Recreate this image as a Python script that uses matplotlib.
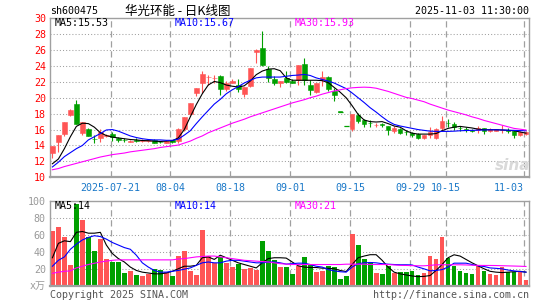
import numpy as np
import matplotlib.pyplot as plt

# ---- données (80 séances, 2025-07-07 -> 2025-11-03) ----
opens = [13.1, 14.5, 15.5, 17.8, 19.2, 15.55, 16.05, 14.85, 14.93, 15.15,
         15.45, 15.0, 14.75, 14.5, 14.65, 14.55, 14.55, 14.75, 14.47, 14.3,
         14.7, 14.6, 16.1, 18.0, 20.6, 21.8, 22.55, 22.45, 22.7, 21.1,
         21.9, 21.6, 20.5, 21.45, 25.7, 26.3, 23.6, 22.3, 21.85, 22.5,
         22.15, 22.2, 24.25, 21.65, 20.75, 22.2, 22.65, 20.9, 18.27, 16.44,
         16.1, 17.8, 17.15, 16.85, 16.55, 16.65, 16.4, 15.85, 16.05, 15.7,
         15.6, 15.45, 15.0, 15.3, 15.0, 16.2, 16.85, 16.7, 16.25, 16.0,
         15.9, 16.0, 16.2, 15.8, 15.85, 15.95, 16.0, 15.85, 15.35, 15.5]
highs = [13.95, 15.35, 16.9, 18.55, 19.7, 17.0, 16.15, 15.35, 16.1, 15.5,
         15.7, 15.1, 15.0, 14.75, 14.95, 14.8, 14.75, 14.85, 14.6, 14.65,
         14.75, 16.15, 17.6, 19.4, 21.25, 23.4, 22.9, 22.8, 22.8, 22.1,
         22.3, 22.3, 21.35, 23.7, 26.1, 28.4, 24.0, 22.7, 22.1, 23.3,
         22.4, 24.1, 24.95, 22.2, 21.9, 23.4, 22.7, 21.25, 18.27, 16.44,
         17.95, 18.05, 17.37, 17.16, 16.82, 16.82, 16.4, 16.48, 16.2, 16.0,
         15.7, 15.55, 15.35, 16.3, 16.2, 17.75, 17.37, 16.9, 16.5, 16.27,
         16.05, 16.4, 16.2, 16.2, 16.1, 16.6, 16.2, 16.0, 15.8, 15.8]
lows = [12.4, 13.2, 15.2, 17.65, 16.7, 15.35, 15.15, 14.3, 14.4, 15.05,
        14.6, 14.4, 14.4, 14.45, 14.4, 14.45, 14.45, 14.25, 14.3, 14.25,
        14.35, 14.3, 15.85, 17.85, 20.2, 20.6, 21.65, 21.85, 20.4, 20.9,
        21.8, 20.75, 20.05, 21.4, 24.4, 24.0, 21.95, 21.66, 21.4, 21.9,
        21.8, 21.65, 21.6, 20.3, 20.6, 21.45, 20.8, 19.65, 18.27, 16.44,
        15.85, 16.8, 16.27, 16.27, 16.27, 16.27, 15.26, 15.56, 15.5, 15.26,
        15.1, 14.85, 14.85, 15.0, 14.85, 16.0, 16.3, 16.0, 15.85, 15.7,
        15.7, 15.55, 15.45, 15.75, 15.8, 15.55, 15.55, 15.0, 15.15, 15.35]
closes = [13.95, 15.35, 16.9, 18.5, 16.75, 17.0, 15.25, 14.8, 15.68, 15.35,
          15.1, 14.7, 14.7, 14.6, 14.6, 14.7, 14.65, 14.3, 14.45, 14.6,
          14.4, 16.06, 17.6, 19.35, 21.25, 23.0, 22.6, 22.5, 21.05, 21.8,
          22.05, 21.05, 21.3, 23.7, 26.05, 24.1, 22.5, 21.9, 22.05, 21.95,
          21.9, 24.1, 22.2, 20.95, 21.85, 22.55, 21.05, 20.3, 18.27, 16.44,
          17.95, 17.1, 16.7, 16.8, 16.6, 16.6, 16.0, 16.2, 15.55, 15.65,
          15.3, 15.0, 15.35, 15.7, 16.05, 17.05, 16.8, 16.3, 16.2, 15.98,
          15.85, 16.2, 15.85, 16.1, 16.05, 16.0, 15.85, 15.35, 15.75, 15.7]

ma5 = [11.7, 12.3, 13.6, 15.1, 16.4, 16.8, 16.75, 16.3, 15.6, 15.25,
       15.05, 14.95, 14.85, 14.75, 14.7, 14.62, 14.6, 14.55, 14.5, 14.55,
       14.6, 14.95, 16.0, 17.6, 19.14, 20.5, 21.6, 22.05, 21.9, 21.6,
       21.45, 21.35, 21.5, 22.1, 22.9, 23.35, 23.6, 23.65, 23.4, 22.5,
       22.2, 22.2, 22.2, 22.2, 22.2, 22.15, 21.9, 21.3, 20.7, 20.0,
       19.0, 17.9, 17.2, 17.0, 16.95, 17.0, 16.75, 16.45, 16.3, 15.85,
       15.55, 15.43, 15.43, 15.43, 15.5, 15.85, 16.15, 16.3, 16.4, 16.3,
       16.2, 16.05, 15.98, 15.98, 15.98, 15.95, 15.9, 15.85, 15.7, 15.55]
ma10 = [11.3, 11.9, 12.6, 13.1, 13.6, 14.0, 14.7, 15.1, 15.5, 15.95,
        16.0, 15.8, 15.5, 15.2, 15.0, 14.85, 14.75, 14.7, 14.7, 14.65,
        14.65, 14.8, 15.3, 15.85, 16.75, 17.6, 18.4, 19.2, 19.8, 20.5,
        21.0, 21.4, 21.85, 22.2, 22.5, 22.6, 22.6, 22.6, 22.6, 22.7,
        22.8, 22.85, 22.93, 22.8, 22.5, 22.3, 22.1, 21.85, 21.5, 21.15,
        20.6, 20.0, 19.4, 18.75, 18.2, 17.6, 17.05, 16.65, 16.45, 16.3,
        16.15, 16.0, 15.9, 15.8, 15.77, 15.77, 15.77, 15.8, 15.85, 15.88,
        15.9, 15.92, 15.95, 15.97, 15.97, 15.95, 15.92, 15.9, 15.87, 15.85]
ma30 = [10.95, 11.1, 11.35, 11.55, 11.75, 11.95, 12.15, 12.35, 12.55, 12.7,
        12.85, 12.95, 13.05, 13.2, 13.3, 13.4, 13.5, 13.6, 13.75, 13.85,
        13.95, 14.05, 14.3, 14.55, 14.9, 15.2, 15.6, 15.9, 16.2, 16.5,
        16.8, 17.05, 17.3, 17.6, 17.85, 18.1, 18.35, 18.6, 18.85, 19.1,
        19.35, 19.55, 19.75, 20.0, 20.2, 20.45, 20.65, 20.85, 21.0, 21.15,
        21.25, 21.3, 21.33, 21.3, 21.2, 21.0, 20.8, 20.55, 20.3, 20.05,
        19.9, 19.7, 19.5, 19.2, 18.95, 18.7, 18.45, 18.25, 18.05, 17.85,
        17.6, 17.4, 17.15, 16.95, 16.75, 16.55, 16.35, 16.15, 16.05, 15.95]

volumes = [64.4, 69.2, 58.0, 24.7, 96.2, 77.5, 57.6, 40.6, 54.9, 31.8,
           28.2, 28.2, 15.1, 17.5, 12.7, 11.5, 14.3, 19.9, 18.3, 16.7,
           11.5, 35.0, 40.6, 17.5, 12.7, 65.6, 34.6, 27.0, 34.2, 26.6,
           21.5, 26.2, 19.9, 20.7, 18.7, 52.5, 40.6, 30.2, 21.5, 21.5,
           14.3, 22.7, 33.4, 25.8, 16.7, 17.9, 22.7, 22.3, 8.3, 11.9,
           61.6, 48.5, 31.8, 27.4, 15.1, 13.9, 22.7, 15.1, 16.7, 16.7,
           17.0, 13.0, 15.0, 35.4, 31.8, 58.0, 33.0, 23.2, 17.3, 15.3,
           13.8, 23.2, 17.3, 13.8, 12.6, 22.4, 16.5, 16.5, 17.3, 6.7]
vol_ma5 = [33, 50, 53, 52, 63, 64, 62, 62, 63, 48,
           38, 32, 28, 22, 18, 16, 15, 14, 14, 15,
           17, 20, 23, 23, 24, 33, 34, 31, 36, 33,
           30, 27, 25, 23, 21, 27, 32, 33, 33, 32.6,
           28, 23.5, 22, 21.5, 21.5, 20.7, 20.5, 20, 18, 16.7,
           25, 33, 35, 36.6, 36.6, 30, 22, 16, 14, 12.7,
           11.5, 10.7, 11, 12, 18, 25, 33, 36.5, 35, 31,
           27, 23.5, 20, 17, 16, 15.5, 16, 16.5, 17, 16]
vol_ma10 = [23, 30, 34, 43, 49, 54, 57, 59, 58, 55,
            51, 48, 45, 43, 36, 27, 22, 18, 16, 16,
            17, 18, 19.5, 21, 24, 27, 28, 27, 27, 29,
            30, 30, 29, 28, 27, 27, 28, 28, 27, 25.5,
            26, 26.6, 26.6, 25, 23, 22, 19, 17.5, 16.5, 16,
            22, 26, 27, 27.4, 27, 26, 25.4, 25, 24.7, 24.7,
            24.5, 22, 19.9, 17.5, 18, 19, 22, 26.6, 26.6, 26.6,
            25, 23.5, 22.7, 21, 20.5, 19.9, 18.5, 17.5, 16.7, 16]
vol_ma30 = [14.6, 16, 17, 17.5, 21, 23, 25, 26.5, 28, 29,
            30, 30.5, 30.5, 30.5, 30.5, 30.5, 30.5, 30.5, 30.5, 30.5,
            30.5, 31.5, 32, 33, 34, 34.5, 35, 35, 34, 33,
            32, 31, 30, 29.5, 29, 28.5, 28, 27, 26, 25.5,
            25, 25, 25, 25, 25, 25, 25, 25, 25, 25.4,
            25.4, 25.4, 25.4, 25, 25, 25, 25, 24.5, 24, 23.9,
            23.7, 23.5, 23.5, 24, 24.7, 24.7, 24.7, 24.7, 24.7, 24.5,
            24.2, 24, 23.9, 23.9, 23.8, 23.6, 23.4, 23.2, 23, 22.7]

tick_idx = [10, 20, 30, 40, 50, 60, 66, 79]
tick_labels = ["2025-07-21", "08-04", "08-18", "09-01", "09-15", "09-29", "10-15", "11-03"]
price_ticks = [10, 12, 14, 16, 18, 20, 22, 24, 26, 28, 30]
vol_ticks = [20, 40, 60, 80, 100]

ROUGE = "#ff5555"
VERT = "#00a000"
GRIS = "#a0a0a0"
BLEU_AXE = "#1a78c8"
MONO = "DejaVu Sans Mono"

W, H = 545, 300
x = np.arange(len(closes))
o, h, l, c = map(np.array, (opens, highs, lows, closes))
prev = np.concatenate([[c[0]], c[:-1]])
hausse = np.where(c != o, c > o, c >= prev)
couleurs = [ROUGE if u else VERT for u in hausse]

fig = plt.figure(figsize=(W / 100, H / 100), dpi=100)
ax = fig.add_axes([50 / W, (H - 177.3) / H, 479 / W, (177.3 - 18.2) / H])
axv = fig.add_axes([50 / W, (H - 285.7) / H, 479 / W, (285.7 - 201) / H])

for a in (ax, axv):
    a.set_xlim(-0.4, 79.5)
    for s in a.spines.values():
        s.set_color(GRIS)
        s.set_linewidth(1.0)
    a.spines["bottom"].set_linewidth(1.6)
    for t in tick_idx:
        a.axvline(t - 0.3, color=GRIS, lw=0.9, ls=(0, (5, 3)), zorder=0)

# grille horizontale pointillée
for p in price_ticks[1:-1]:
    ax.axhline(p, color=GRIS, lw=0.75, ls=(0, (1, 2)), zorder=0)
for v in vol_ticks[:-1]:
    axv.axhline(v, color=GRIS, lw=0.75, ls=(0, (1, 2)), zorder=0)

# chandeliers
ax.vlines(x, l, h, colors=couleurs, lw=0.8, zorder=2)
corps = np.maximum(np.abs(c - o), 0.04)
ax.bar(x, corps, bottom=np.minimum(o, c), width=0.78, color=couleurs,
       edgecolor=couleurs, lw=0.4, zorder=3)
plats = h == l
ax.hlines(c[plats], x[plats] - 0.4, x[plats] + 0.4, colors=VERT, lw=0.9, zorder=3)

ax.plot(x, ma5, color="black", lw=0.8, zorder=4)
ax.plot(x, ma10, color="#0000ff", lw=0.8, zorder=4)
ax.plot(x, ma30, color="#ff00ff", lw=0.8, zorder=4)

ax.set_ylim(10, 30)
ax.set_yticks(price_ticks)
ax.set_yticklabels([str(p) for p in price_ticks], family=MONO, fontsize=7.2, color="#ff0000")
ax.set_xticks([t - 0.3 for t in tick_idx])
ax.set_xticklabels(tick_labels, family=MONO, fontsize=7.2, color=BLEU_AXE)
ax.get_xticklabels()[-1].set_ha("right")
ax.tick_params(length=0, pad=3)
ax.tick_params(axis="x", pad=4)

# volumes
axv.bar(x, volumes, width=0.8, color=couleurs, zorder=2)
axv.plot(x, vol_ma5, color="black", lw=0.8, zorder=4)
axv.plot(x, vol_ma10, color="#0000ff", lw=0.8, zorder=4)
axv.plot(x, vol_ma30, color="#ff00ff", lw=0.8, zorder=4)
axv.set_ylim(0, 100)
axv.set_yticks(vol_ticks)
axv.set_yticklabels([str(v) for v in vol_ticks], family=MONO, fontsize=7.2, color="#999999")
axv.set_xticks([])
axv.tick_params(length=0, pad=3)


def texte(px, py, s, **kw):
    kw.setdefault("family", MONO)
    kw.setdefault("fontsize", 7.2)
    kw.setdefault("va", "center")
    fig.text(px / W, 1 - py / H, s, **kw)


texte(50, 11, "sh600475")
texte(178, 11, "华光环能 - 日K线图", family=["Noto Sans CJK SC", "DejaVu Sans"],
      fontsize=9, ha="center")
texte(529, 11, "2025-11-03 11:30:00", ha="right")

texte(55, 23.5, "MA5:15.53", color="black")
texte(175, 23.5, "MA10:15.67", color="#0000ff")
texte(295, 23.5, "MA30:15.93", color="#ff00ff")

texte(55, 206, "MA5:14", color="black")
texte(175, 206, "MA10:14", color="#0000ff")
texte(295, 206, "MA30:21", color="#ff00ff")

texte(46, 286, "x万", family=[MONO, "Noto Sans CJK SC"], color="#999999", ha="right")

texte(50, 294.5, "Copyright 2025 SINA.COM", color="#555555")
texte(529, 294.5, "http://finance.sina.com.cn", color="#555555", ha="right")

texte(513, 165, "sina", family="DejaVu Sans", fontsize=11, style="italic",
      weight="bold", color="#d9d9d9", ha="center")

fig.savefig("out.png", dpi=100)
